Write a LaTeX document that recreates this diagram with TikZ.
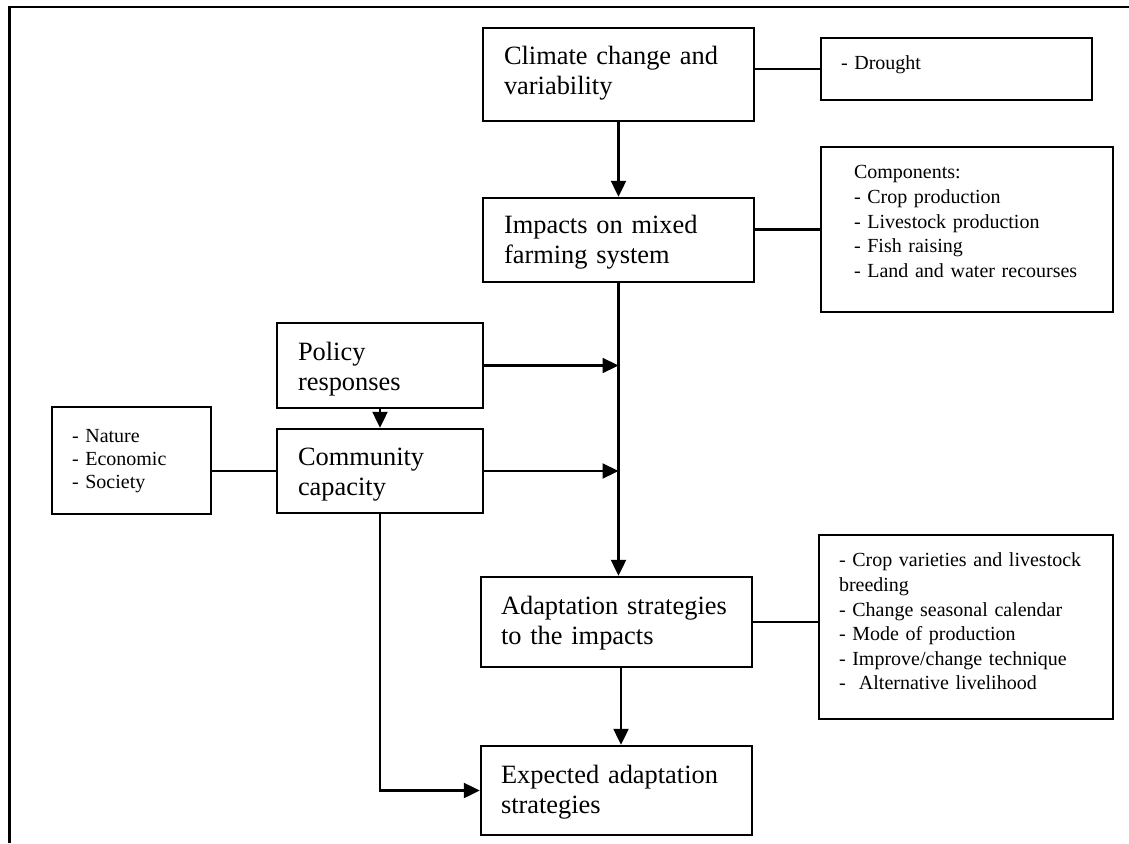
\documentclass[tikz,border=0pt]{standalone}
\usepackage{fontspec}
\setmainfont{Liberation Serif}
\usetikzlibrary{arrows.meta}
\begin{document}
\begin{tikzpicture}[x=1pt,y=-1pt,
  box/.style={draw, line width=2.4pt, rectangle, inner sep=0pt},
  bigtxt/.style={anchor=base west, inner sep=0pt, text width=320pt, align=left,
    font=\fontsize{26.4}{30}\selectfont},
  smalltxt/.style={anchor=base west, inner sep=0pt, text width=320pt, align=left,
    font=\fontsize{20}{24.6}\selectfont},
  conn/.style={line width=2.2pt},
  arr/.style={line width=2.2pt, -{Triangle[length=16pt,width=15pt]}}]
\useasboundingbox (0,0) rectangle (1129,843);
% frame
\draw[line width=2.8pt] (9.5,843) -- (9.5,7) -- (1129,7);
% boxes
\node[box, minimum width=271pt, minimum height=93pt] (climate) at (618.5,74.5) {};
\node[box, minimum width=271pt, minimum height=62pt] (drought) at (956.5,69) {};
\node[box, minimum width=271pt, minimum height=84pt] (impacts) at (618.5,240) {};
\node[box, minimum width=292pt, minimum height=165pt] (comp) at (967,229.5) {};
\node[box, minimum width=206pt, minimum height=85pt] (policy) at (380,365.5) {};
\node[box, minimum width=206pt, minimum height=84pt] (community) at (380,471) {};
\node[box, minimum width=159pt, minimum height=107pt] (nature) at (131.5,460.5) {};
\node[box, minimum width=271pt, minimum height=90pt] (adapt) at (616.5,622) {};
\node[box, minimum width=294pt, minimum height=184pt] (adlist) at (966,627) {};
\node[box, minimum width=271pt, minimum height=89pt] (expected) at (616.5,790.5) {};
% texts
\node[bigtxt] (tclimate) at ([shift={(22,38)}]climate.north west) {Climate change and\\variability};
\node[bigtxt] (timpacts) at ([shift={(22,37)}]impacts.north west) {Impacts on mixed\\farming system};
\node[bigtxt] (tpolicy) at ([shift={(22,39)}]policy.north west) {Policy\\responses};
\node[bigtxt] (tcommunity) at ([shift={(22,38)}]community.north west) {Community\\capacity};
\node[bigtxt] (tadapt) at ([shift={(21,39)}]adapt.north west) {Adaptation strategies\\to the impacts};
\node[bigtxt] (texpected) at ([shift={(21,39)}]expected.north west) {Expected adaptation\\strategies};
\node[smalltxt] (tdrought) at ([shift={(21,33)}]drought.north west) {- Drought};
\node[smalltxt] (tcomp) at ([shift={(34,33)}]comp.north west) {Components:\\- Crop production\\- Livestock production\\- Fish raising\\- Land and water recourses};
\node[smalltxt] (tadlist) at ([shift={(21,33)}]adlist.north west) {- Crop varieties and livestock\\breeding\\- Change seasonal calendar\\- Mode of production\\- Improve/change technique\\-\ \ Alternative livelihood};
\node[smalltxt, font=\fontsize{20}{23}\selectfont] (tnature) at ([shift={(21,37)}]nature.north west) {- Nature\\- Economic\\- Society};
% connectors
\draw[conn] (drought.west) -- (drought.west -| climate.east);
\draw[conn] (comp.west) -- (comp.west -| impacts.east);
\draw[conn] (adapt.east) -- (adapt.east -| adlist.west);
\draw[conn] (nature.east |- community.west) -- (community.west);
\draw[arr] (climate.south) -- (impacts.north);
\draw[arr] (impacts.south) -- (impacts.south |- adapt.north);
\draw[arr] (policy.east) -- (policy.east -| impacts.south);
\draw[arr] (community.east) -- (community.east -| impacts.south);
\draw[arr] (policy.south) -- (community.north);
\draw[arr] (community.south) |- (expected.west);
\draw[arr] ([xshift=4.5pt]adapt.south) -- ([xshift=4.5pt]adapt.south |- expected.north);
\end{tikzpicture}
\end{document}
